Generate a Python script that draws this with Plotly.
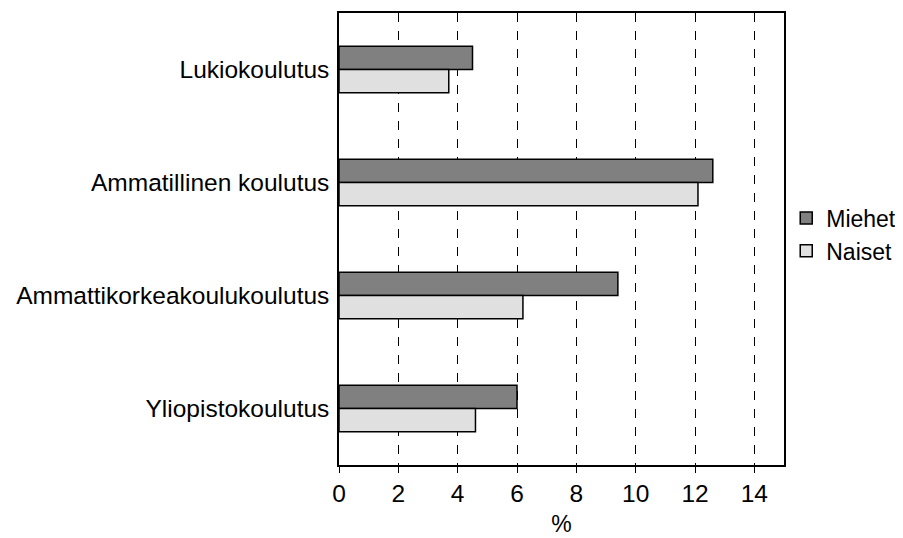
import plotly.graph_objects as go

categories = ["Lukiokoulutus", "Ammatillinen koulutus", "Ammattikorkeakoulukoulutus", "Yliopistokoulutus"]
miehet = [4.5, 12.6, 9.4, 6.0]
naiset = [3.7, 12.1, 6.2, 4.6]
x_ticks = [0, 2, 4, 6, 8, 10, 12, 14]

fig = go.Figure()
fig.add_trace(go.Bar(y=categories, x=miehet, name="Miehet", orientation="h",
                     marker=dict(color="#808080", line=dict(color="#000000", width=1.5))))
fig.add_trace(go.Bar(y=categories, x=naiset, name="Naiset", orientation="h",
                     marker=dict(color="#e0e0e0", line=dict(color="#000000", width=1.5))))

fig.update_layout(
    width=903, height=538,
    margin=dict(l=331, r=127, t=5, b=81, autoexpand=False),
    paper_bgcolor="white", plot_bgcolor="white",
    barmode="group", bargap=0.59, bargroupgap=0,
    font=dict(family="Liberation Sans, Arial, sans-serif", size=22, color="#000000"),
    legend=dict(x=1.005, xanchor="left", y=0.51, yanchor="middle",
                font=dict(size=23), traceorder="normal", tracegroupgap=0,
                itemwidth=30),
    showlegend=True,
)
fig.update_xaxes(range=[0, 15], tickvals=x_ticks, ticks="outside", ticklen=6, tickcolor="#000",
                 tickfont=dict(size=24.5), automargin=False,
                 showgrid=True, gridcolor="#000000", griddash="dash", gridwidth=1,
                 showline=True, linecolor="#000", linewidth=1.5, mirror=True, zeroline=False,
                 title=dict(text="%", standoff=10, font=dict(size=23)))
fig.update_yaxes(autorange="reversed", showline=True, linecolor="#000", linewidth=1.5, mirror=True,
                 automargin=False,
                 ticks="", tickfont=dict(size=24.5), ticklabelstandoff=3, showgrid=False)

fig.write_html("out.html")
